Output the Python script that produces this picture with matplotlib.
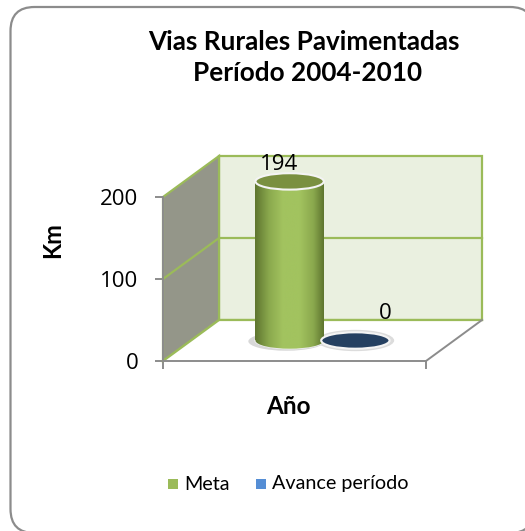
#!/usr/bin/env python3
import numpy as np
import matplotlib
matplotlib.use('Agg')
import matplotlib.pyplot as plt
from matplotlib.colors import LinearSegmentedColormap
from matplotlib.patches import Ellipse, FancyBboxPatch, Polygon, Rectangle

plt.rcParams['font.family'] = ['Lato', 'DejaVu Sans']

W, H = 525, 531

# data
series = ['Meta', 'Avance período']
values = [194, 0]
yticks = [0, 100, 200]
legend_colors = ['#9BBB59', '#558ED5']

# depth of the fake 3D box, in axis units
DX, DY = 0.213, 50
BAR_W, CAP_H = 0.26, 20
bar_x = [0.375 + DX / 2, 0.625 + DX / 2]
label_shift = [(-0.042, 21), (0.114, 33)]

fig = plt.figure(figsize=(W / 100, H / 100), dpi=100, facecolor='white')

# outer rounded frame, runs off the canvas on the right and bottom
bg = fig.add_axes([0, 0, 1, 1])
bg.set_xlim(0, W)
bg.set_ylim(H, 0)
bg.axis('off')
bg.add_patch(FancyBboxPatch((10.5, 7), 523.5, 526, boxstyle='round,pad=0,rounding_size=24',
                            mutation_scale=1, fc='white', ec='#8c8c8c', lw=1.6))

ax = fig.add_axes([163 / W, 1 - 361 / H, 263 / W, 164 / H])
ax.patch.set_alpha(0)

green = '#9BBB59'
# back wall, side wall, floor
ax.add_patch(Polygon([(DX, DY), (1 + DX, DY), (1 + DX, 200 + DY), (DX, 200 + DY)],
                     fc='#EAF0E0', ec=green, lw=1.6, clip_on=False, zorder=1))
ax.add_patch(Polygon([(0, 0), (DX, DY), (DX, 200 + DY), (0, 200)],
                     fc='#949689', ec=green, lw=1.6, clip_on=False, zorder=1))
ax.add_patch(Polygon([(0, 0), (1, 0), (1 + DX, DY), (DX, DY)],
                     fc='white', ec='none', clip_on=False, zorder=1.5))
ax.plot([DX, 1 + DX], [DY, DY], color=green, lw=1.6, clip_on=False, zorder=1.6)
ax.plot([1, 1 + DX], [0, DY], color='#8c8c8c', lw=1.4, clip_on=False, zorder=1.6)
ax.plot([0, DX], [0, DY], color=green, lw=1.6, clip_on=False, zorder=1.6)
# gridline on the walls
ax.plot([0, DX, 1 + DX], [100, 100 + DY, 100 + DY], color=green, lw=1.6, clip_on=False, zorder=2)

cmap = LinearSegmentedColormap.from_list('cyl', [(0, '#5E752F'), (0.2, '#8AA84D'), (0.4, '#A2C35F'),
                                                 (0.65, '#A2C35F'), (0.85, '#8AA84D'), (1, '#5E752F')])
base = DY / 2

for x, v, (lx, ly) in zip(bar_x, values, label_shift):
    left = x - BAR_W / 2
    if v > 0:
        # soft shadow under the bar
        ax.add_patch(Ellipse((x - 0.012, base - 1), BAR_W + 0.03, CAP_H + 3, fc='#d8d8d8', ec='none',
                             clip_on=False, zorder=3))
        ax.add_patch(Ellipse((x, base), BAR_W + 0.008, CAP_H + 1.5, fc='#f4f4f4', ec='none',
                             clip_on=False, zorder=3.5))
        foot = Ellipse((x, base), BAR_W, CAP_H, fc='none', ec='none')
        ax.add_patch(foot)
        grad = np.linspace(0, 1, 256).reshape(1, -1)
        ax.imshow(grad, extent=[left, left + BAR_W, base, base + v], cmap=cmap, aspect='auto',
                  clip_on=False, zorder=4)
        ax.imshow(grad, extent=[left, left + BAR_W, base - CAP_H / 2, base], cmap=cmap, aspect='auto',
                  clip_path=foot, zorder=4)
        ax.add_patch(Ellipse((x, base + v), BAR_W, CAP_H, fc='#7A9040', ec='#f4f4f4', lw=1.5,
                             clip_on=False, zorder=5))
    else:
        ax.add_patch(Ellipse((x, base), BAR_W + 0.035, CAP_H + 6, fc='#dcdcdc', ec='none',
                             clip_on=False, zorder=3))
        ax.add_patch(Ellipse((x, base), BAR_W, CAP_H, fc='#254061', ec='#f4f4f4', lw=1.5,
                             clip_on=False, zorder=5))
    ax.text(x + lx, base + v + ly, str(v), fontsize=16, family='Open Sans', ha='center', va='center',
            color='black', zorder=6, clip_on=False)

ax.set_xlim(0, 1)
ax.set_ylim(0, 200)

for s in ['top', 'right']:
    ax.spines[s].set_visible(False)
for s in ['left', 'bottom']:
    ax.spines[s].set_color('#8c8c8c')
    ax.spines[s].set_linewidth(1.4)
    ax.spines[s].set_zorder(2.5)
ax.set_yticks(yticks)
ax.set_xticks([0, 1])
ax.set_xticklabels([])
ax.tick_params(axis='both', color='#8c8c8c', width=1.4, length=5.8)
ax.tick_params(axis='y', labelsize=16, pad=12)
for t in ax.get_yticklabels():
    t.set_family('Open Sans')

ax.set_ylabel('Km', fontsize=17, fontweight='bold', va='center')
ax.yaxis.set_label_coords((53 - 163) / 263, (361 - 240) / 164)

fig.text(304 / W, 1 - 42 / H, 'Vias Rurales Pavimentadas', fontsize=18.8, fontweight='bold', ha='center', va='center')
fig.text(307.5 / W, 1 - 73 / H, 'Período 2004-2010', fontsize=18.8, fontweight='bold', ha='center', va='center')
fig.text(288 / W, 1 - 407 / H, 'Año', fontsize=17.5, fontweight='bold', ha='center', va='center')

# legend
for name, col, mx, tx in zip(series, legend_colors, [173, 261], [184, 272]):
    bg.add_patch(Rectangle((mx - 5, 484 - 5), 10, 10, fc=col, ec='none'))
    bg.text(tx, 484, name, fontsize=14.2, va='center', ha='left', color='black')

fig.savefig('out.png', dpi=100)
